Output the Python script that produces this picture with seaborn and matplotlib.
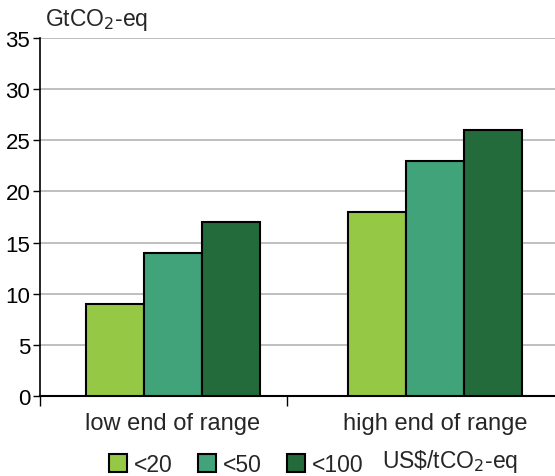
import pandas as pd
import matplotlib.pyplot as plt
import seaborn as sns

categories = ["low end of range", "high end of range"]
price_levels = ["<20", "<50", "<100"]
low_end = [9, 14, 17]
high_end = [18, 23, 26]
colors = ["#95C845", "#40A379", "#236B3B"]

df = pd.DataFrame({
    "range": [categories[0]] * 3 + [categories[1]] * 3,
    "price": price_levels * 2,
    "value": low_end + high_end,
})

sns.set_style("white")
plt.rcParams["font.family"] = ["Liberation Sans", "DejaVu Sans"]

fig = plt.figure(figsize=(5.55, 4.77), dpi=100)
ax = fig.add_axes([0.072, 0.168, 0.928, 0.75])

sns.barplot(data=df, x="range", y="value", hue="price", palette=colors,
            width=0.665, gap=0, edgecolor="black", linewidth=1.5,
            saturation=1, ax=ax, legend=True, zorder=3)

ax.set_ylim(0, 35)
ax.set_yticks(range(0, 36, 5))
ax.set_xlim(-0.508, 1.458)
ax.yaxis.grid(True, color="#B4B4B4", linewidth=1.2, zorder=0)
ax.set_axisbelow(True)
for s in ["top", "right"]:
    ax.spines[s].set_visible(False)
ax.spines["left"].set_color("black")
ax.spines["bottom"].set_color("black")
ax.spines["left"].set_linewidth(1.2)
ax.spines["bottom"].set_linewidth(1.5)

ax.tick_params(axis="y", left=True, length=5, width=1, labelsize=16, pad=2, colors="black")
ax.tick_params(axis="x", bottom=False, labelsize=17, pad=8)
ax.set_xticks([-0.508, 0.435], minor=True)
ax.tick_params(axis="x", which="minor", bottom=True, length=7, width=1, color="black")
ax.set_xlabel("")
ax.set_ylabel("")

fig.text(0.081, 0.93, "GtCO$_2$-eq", fontsize=16.5, ha="left", va="bottom")

handles, labels = ax.get_legend_handles_labels()
ax.legend(handles, labels, loc="lower left", bbox_to_anchor=(0.196, 0.0),
          bbox_transform=fig.transFigure,
          ncol=3, frameon=False, fontsize=16.5, handlelength=0.78, handleheight=0.78,
          handletextpad=0.3, columnspacing=1.12, borderaxespad=0, borderpad=0)
fig.text(0.688, 0.004, "US\\$/tCO$_2$-eq", fontsize=16.5, ha="left", va="bottom")

fig.savefig("out.png", dpi=100)
